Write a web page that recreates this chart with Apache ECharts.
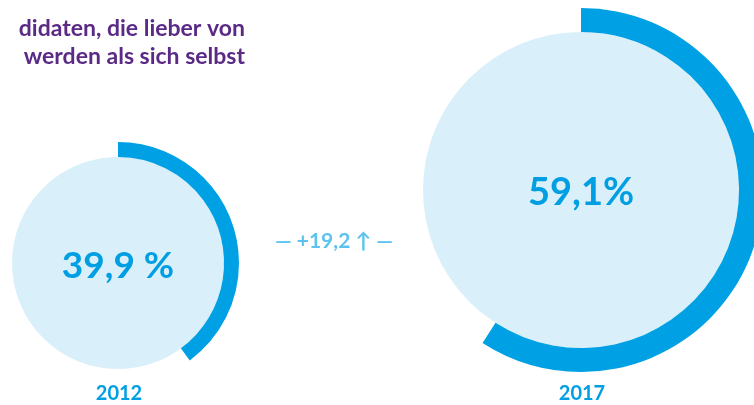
<!DOCTYPE html>
<html>
<head>
<meta charset="utf-8">
<script src="https://cdn.jsdelivr.net/npm/echarts@6/dist/echarts.min.js"></script>
<style>
  html, body { margin: 0; padding: 0; background: #fff; }
  #chart { width: 754px; height: 405px; }
</style>
</head>
<body>
<div id="chart"></div>
<script>
// Daten
var years = ['2012', '2017'];
var shares = [39.9, 59.1];
var shareLabels = ['39,9 %', '59,1%'];
var diffLabel = '— +19,2 ↑ —';
var titleLines = ['didaten, die lieber von', 'werden als sich selbst'];

var arcColor = '#00a1e4';
var fillColor = '#d9eff9';
var textColor = '#009fe3';
var fontFam = 'Lato, "Noto Sans", sans-serif';

// Kreise: Mitte, Innenradius, Aussenradius, Schriftgroesse
var rings = [
    {center: [118, 263], r0: 106, r1: 121, fs: 37},
    {center: [581, 190], r0: 158, r1: 182, fs: 38}
];

var chart = echarts.init(document.getElementById('chart'));

var series = [];
for (var i = 0; i < shares.length; i++) {
    var g = rings[i];
    // Hintergrundkreis mit Wert
    series.push({
        type: 'pie',
        silent: true,
        center: g.center,
        radius: [0, g.r0],
        label: {
            show: true,
            position: 'center',
            formatter: shareLabels[i],
            color: textColor,
            fontSize: g.fs,
            fontWeight: 'bold',
            fontFamily: fontFam,
            offset: [0, 3]
        },
        labelLine: {show: false},
        itemStyle: {color: fillColor},
        data: [{value: 100}]
    });
    // Bogen
    series.push({
        type: 'pie',
        silent: true,
        center: g.center,
        radius: [g.r0, g.r1],
        startAngle: 90,
        clockwise: true,
        label: {show: false},
        labelLine: {show: false},
        data: [
            {value: shares[i], itemStyle: {color: arcColor}},
            {value: 100 - shares[i], itemStyle: {color: 'rgba(0,0,0,0)'}}
        ]
    });
}

var graphics = [];
for (var i = 0; i < years.length; i++) {
    graphics.push({
        type: 'text',
        x: rings[i].center[0] + 1,
        y: 394,
        style: {
            text: years[i],
            align: 'center',
            verticalAlign: 'middle',
            fill: textColor,
            font: 'bold 20px ' + fontFam
        }
    });
}
graphics.push({
    type: 'text',
    x: 334,
    y: 241,
    style: {
        text: diffLabel,
        align: 'center',
        verticalAlign: 'middle',
        fill: '#5bc3ee',
        font: 'bold 21px ' + fontFam
    }
});
for (var k = 0; k < titleLines.length; k++) {
    graphics.push({
        type: 'text',
        x: 245,
        y: 29 + k * 28,
        style: {
            text: titleLines[k],
            align: 'right',
            verticalAlign: 'middle',
            fill: '#5b2a86',
            font: 'bold 23px ' + fontFam
        }
    });
}

chart.setOption({
    animation: false,
    series: series,
    graphic: graphics
});
</script>
</body>
</html>
